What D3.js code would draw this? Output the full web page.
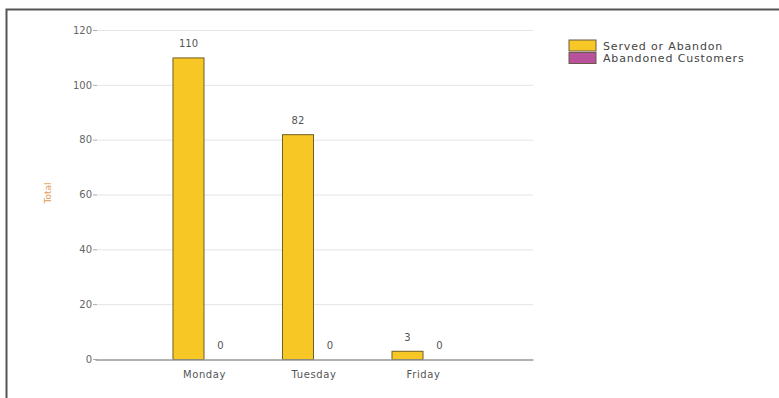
<!DOCTYPE html>
<html>
<head>
<meta charset="utf-8">
<script src="https://cdn.jsdelivr.net/npm/d3@7"></script>
<style>
  body { margin: 0; background: #fff; }
  text { font-family: "DejaVu Sans", sans-serif; }
</style>
</head>
<body>
<svg id="chart" width="779" height="398"></svg>
<script>
const days = ["Monday", "Tuesday", "Friday"];
const seriesNames = ["Served or Abandon", "Abandoned Customers"];
const servedOrAbandon = [110, 82, 3];
const abandonedCustomers = [0, 0, 0];
const yTicks = [0, 20, 40, 60, 80, 100, 120];
const colors = ["#f7c726", "#b8529c"];

const svg = d3.select("#chart");

// outer frame
svg.append("rect")
    .attr("x", 6.5).attr("y", 9.5)
    .attr("width", 790).attr("height", 400)
    .attr("fill", "none")
    .attr("stroke", "#555")
    .attr("stroke-width", 2);

const margin = { left: 97, right: 533, top: 30, bottom: 359 };

const x = d3.scaleBand().domain(days).range([margin.left - 2, margin.right]).paddingOuter(0.5).paddingInner(0);
const xs = d3.scaleBand().domain(seriesNames).range([0, x.bandwidth()]).paddingOuter(0.71).paddingInner(0);
const y = d3.scaleLinear().domain([0, 120]).range([margin.bottom, margin.top]);

// gridlines
svg.append("g").selectAll("line")
    .data(yTicks.filter(d => d > 0))
    .join("line")
    .attr("x1", margin.left).attr("x2", margin.right)
    .attr("y1", d => y(d) + 0.5).attr("y2", d => y(d) + 0.5)
    .attr("stroke", "#e4e4e4")
    .attr("stroke-width", 1);

// y axis labels
const yAxis = d3.axisLeft(y).tickValues(yTicks).tickSize(4).tickPadding(1);
const yg = svg.append("g").attr("transform", `translate(${margin.left},0)`).call(yAxis);
yg.select(".domain").remove();
yg.selectAll(".tick line").attr("stroke", "#aaa");
yg.selectAll("text").attr("fill", "#666").attr("font-size", 10);

// axis title
svg.append("text")
    .attr("transform", `translate(51,193) rotate(-90)`)
    .attr("text-anchor", "middle")
    .attr("fill", "#e59a55")
    .attr("font-size", 9)
    .text("Total");

const rows = days.map((d, i) => ({
    day: d,
    values: [
        { name: seriesNames[0], value: servedOrAbandon[i], color: colors[0] },
        { name: seriesNames[1], value: abandonedCustomers[i], color: colors[1] }
    ]
}));

const groups = svg.append("g").selectAll("g")
    .data(rows)
    .join("g")
    .attr("transform", d => `translate(${x(d.day)},0)`);

groups.selectAll("rect")
    .data(d => d.values.filter(v => v.value > 0))
    .join("rect")
    .attr("x", d => xs(d.name) + 0.5)
    .attr("y", d => y(d.value) + 0.5)
    .attr("width", xs.bandwidth() - 1)
    .attr("height", d => y(0) - y(d.value))
    .attr("fill", d => d.color)
    .attr("stroke", "#6f5f22")
    .attr("stroke-width", 1);

groups.selectAll("text")
    .data(d => d.values)
    .join("text")
    .attr("x", d => xs(d.name) + xs.bandwidth() / 2)
    .attr("y", d => y(d.value) - 10)
    .attr("text-anchor", "middle")
    .attr("fill", "#555")
    .attr("font-size", 10)
    .text(d => d.value);

// x axis
const xAxis = d3.axisBottom(x).tickSize(0).tickPadding(11);
const xg = svg.append("g").attr("transform", `translate(0,${margin.bottom + 0.5})`).call(xAxis);
xg.select(".domain").attr("stroke", "#999").attr("stroke-width", 1.5);
xg.selectAll("text").attr("fill", "#555").attr("font-size", 10).attr("letter-spacing", 0.6);

// legend
const legend = svg.append("g").attr("transform", "translate(569,40)");
const li = legend.selectAll("g")
    .data(seriesNames)
    .join("g")
    .attr("transform", (d, i) => `translate(0,${i * 12.5})`);
li.append("rect")
    .attr("width", 27).attr("height", 11)
    .attr("fill", (d, i) => colors[i])
    .attr("stroke", "#6b5a4a");
li.append("text")
    .attr("x", 34).attr("y", 9.5)
    .attr("font-size", 11)
    .attr("fill", "#444")
    .attr("letter-spacing", 0.85)
    .text(d => d);
</script>
</body>
</html>
